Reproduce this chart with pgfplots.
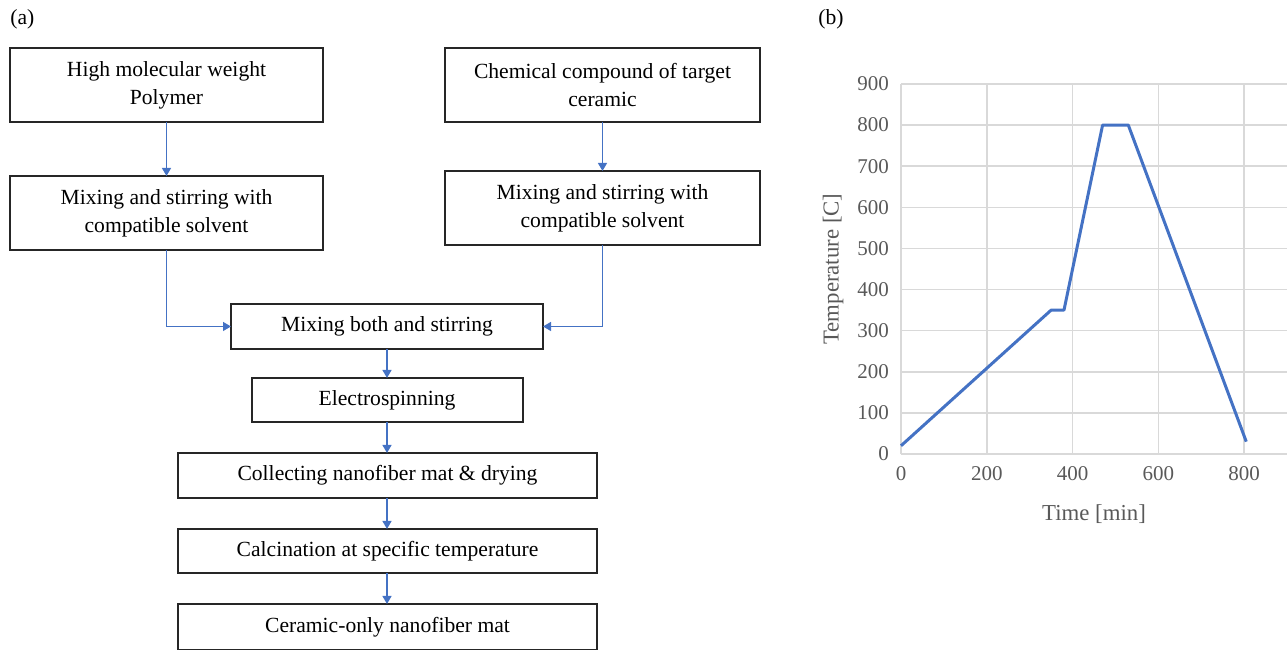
\documentclass[border=0pt]{standalone}
\usepackage{pgfplots}
\pgfplotsset{compat=1.18}
\usepackage{fontspec}
\setmainfont{Liberation Serif}
\usetikzlibrary{arrows.meta}
\definecolor{lineblue}{HTML}{4472C4}
\definecolor{txtgray}{HTML}{595959}
\definecolor{gridgray}{HTML}{D9D9D9}

\begin{document}
\begin{tikzpicture}[x=0.5bp,y=0.5bp,
  box/.style={draw=black!85,line width=0.6bp},
  flow/.style={draw=lineblue,line width=0.65bp,-{Triangle[length=4bp,width=4.5bp]}},
  lbl/.style={font=\fontsize{10.8bp}{14bp}\selectfont,align=center}]
\path[use as bounding box] (0,0) rectangle (1287,650);
\coordinate (origin) at (901,196);

% (a) flowchart, in pixel coordinates measured from the top
\begin{scope}[yshift=325bp,yscale=-1]
\node[lbl,anchor=west,inner sep=0pt] at (10,19) {(a)};
\draw[box] (10,48) rectangle (323,122);
\node[lbl] at (166.5,85) {High molecular weight\\Polymer};
\draw[box] (10,176) rectangle (323,250);
\node[lbl] at (166.5,213) {Mixing and stirring with\\compatible solvent};
\draw[box] (445,48) rectangle (760,122);
\node[lbl] at (602.5,85) {Chemical compound of target\\ceramic};
\draw[box] (445,171) rectangle (760,245);
\node[lbl] at (602.5,208) {Mixing and stirring with\\compatible solvent};
\draw[box] (231,304) rectangle (543,349);
\node[lbl] at (387,326.5) {Mixing both and stirring};
\draw[box] (252,378) rectangle (523,422);
\node[lbl] at (387,400) {Electrospinning};
\draw[box] (178,453) rectangle (597,498);
\node[lbl] at (387.5,475.5) {Collecting nanofiber mat \& drying};
\draw[box] (178,529) rectangle (597,573);
\node[lbl] at (387.5,551) {Calcination at specific temperature};
\draw[box] (178,604) rectangle (597,649.4);
\node[lbl] at (387.5,627) {Ceramic-only nanofiber mat};

\draw[flow] (166.5,122) -- (166.5,176);
\draw[flow] (602.5,122) -- (602.5,171);
\draw[flow] (166.5,250) -- (166.5,326.5) -- (231,326.5);
\draw[flow] (602.5,245) -- (602.5,326.5) -- (543,326.5);
\draw[flow] (387,349) -- (387,378);
\draw[flow] (387,422) -- (387,453);
\draw[flow] (387,498) -- (387,529);
\draw[flow] (387,573) -- (387,604);

\node[lbl,anchor=west,inner sep=0pt] at (818,19) {(b)};
\end{scope}

% (b) firing profile
\begin{axis}[at={(origin)},anchor=south west,
  scale only axis,width=193bp,height=185bp,
  xmin=0,xmax=900,ymin=0,ymax=900,
  xtick={0,200,...,800},ytick={0,100,...,900},
  grid=major,major grid style={gridgray,line width=0.8bp},
  axis line style={draw=none},tick style={draw=none},
  /pgf/number format/assume math mode=true,
  tick label style={font=\fontsize{10.5bp}{12bp}\selectfont,text=txtgray},
  yticklabel style={xshift=-2.5bp},
  xticklabel style={yshift=-2.5bp},
  label style={font=\fontsize{11.4bp}{13bp}\selectfont,text=txtgray},
  xlabel={Time [min]},ylabel={Temperature [C]},
  xlabel style={at={(axis description cs:0.5,-0.162)},anchor=center},
  ylabel style={at={(axis description cs:-0.176,0.5)},anchor=center},
  clip=false]
\addplot[lineblue,line width=1.5bp,line join=round] coordinates {
  (0,20) (350,350) (380,350) (470,800) (530,800) (805,30)
};
\end{axis}
\end{tikzpicture}
\end{document}
